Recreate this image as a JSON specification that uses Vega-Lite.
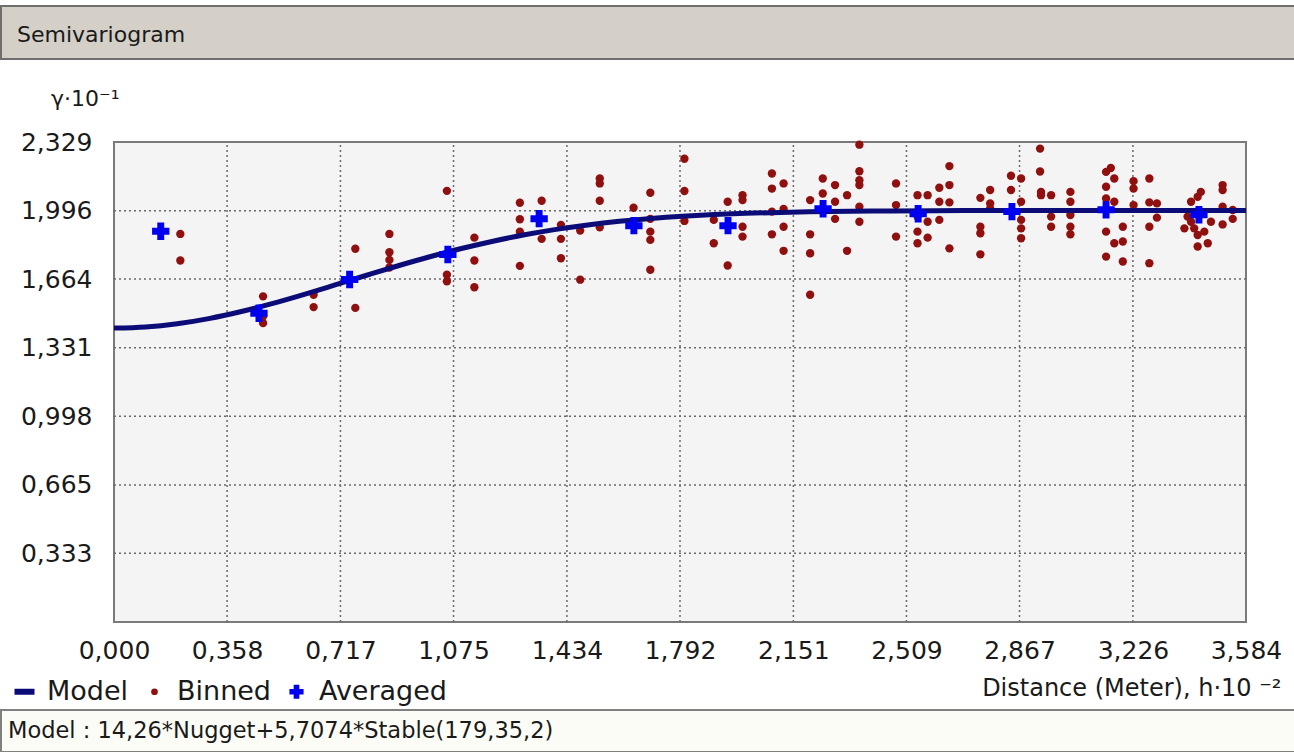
{
  "$schema": "https://vega.github.io/schema/vega-lite/v6.json",
  "background": "#ffffff",
  "padding": {"top": 5, "left": 0, "right": 0, "bottom": 0},
  "datasets": {
    "binned": [
      {"h":0.210,"g":1.883},{"h":0.210,"g":1.754},{"h":0.472,"g":1.580},{"h":0.472,"g":1.483},{"h":0.472,"g":1.450},
      {"h":0.632,"g":1.588},{"h":0.632,"g":1.528},{"h":0.764,"g":1.811},{"h":0.764,"g":1.524},{"h":0.872,"g":1.883},
      {"h":0.872,"g":1.794},{"h":0.872,"g":1.757},{"h":0.872,"g":1.720},{"h":1.054,"g":2.092},{"h":1.054,"g":1.685},
      {"h":1.054,"g":1.653},{"h":1.141,"g":1.865},{"h":1.141,"g":1.754},{"h":1.141,"g":1.624},{"h":1.285,"g":2.034},
      {"h":1.285,"g":1.954},{"h":1.285,"g":1.894},{"h":1.285,"g":1.728},{"h":1.354,"g":2.044},{"h":1.354,"g":1.859},
      {"h":1.415,"g":1.927},{"h":1.415,"g":1.859},{"h":1.415,"g":1.765},{"h":1.476,"g":1.899},{"h":1.476,"g":1.661},
      {"h":1.538,"g":2.152},{"h":1.538,"g":2.128},{"h":1.538,"g":2.044},{"h":1.538,"g":1.915},{"h":1.645,"g":2.010},
      {"h":1.698,"g":2.083},{"h":1.698,"g":1.956},{"h":1.698,"g":1.894},{"h":1.698,"g":1.854},{"h":1.698,"g":1.709},
      {"h":1.806,"g":2.248},{"h":1.806,"g":2.091},{"h":1.806,"g":1.946},{"h":1.899,"g":1.951},{"h":1.899,"g":1.838},
      {"h":1.943,"g":2.039},{"h":1.943,"g":1.730},{"h":1.990,"g":2.071},{"h":1.990,"g":2.047},{"h":1.990,"g":1.918},
      {"h":1.990,"g":1.870},{"h":2.083,"g":2.176},{"h":2.083,"g":2.103},{"h":2.083,"g":1.991},{"h":2.083,"g":1.881},
      {"h":2.120,"g":2.128},{"h":2.120,"g":2.004},{"h":2.120,"g":1.918},{"h":2.120,"g":1.801},{"h":2.204,"g":2.047},
      {"h":2.204,"g":1.881},{"h":2.204,"g":1.789},{"h":2.204,"g":1.588},{"h":2.244,"g":2.152},{"h":2.244,"g":2.079},
      {"h":2.283,"g":2.120},{"h":2.283,"g":2.039},{"h":2.283,"g":1.956},{"h":2.321,"g":2.071},{"h":2.321,"g":1.801},
      {"h":2.360,"g":2.316},{"h":2.360,"g":2.187},{"h":2.360,"g":2.144},{"h":2.360,"g":2.120},{"h":2.360,"g":2.015},
      {"h":2.360,"g":1.942},{"h":2.476,"g":2.128},{"h":2.476,"g":2.023},{"h":2.476,"g":1.870},{"h":2.544,"g":2.071},
      {"h":2.544,"g":1.967},{"h":2.544,"g":1.894},{"h":2.544,"g":1.838},{"h":2.576,"g":2.071},{"h":2.576,"g":1.942},
      {"h":2.576,"g":1.865},{"h":2.613,"g":2.107},{"h":2.613,"g":2.039},{"h":2.613,"g":1.951},{"h":2.645,"g":2.212},
      {"h":2.645,"g":2.120},{"h":2.645,"g":2.036},{"h":2.645,"g":1.813},{"h":2.743,"g":2.058},{"h":2.743,"g":1.918},
      {"h":2.743,"g":1.886},{"h":2.743,"g":1.784},{"h":2.774,"g":2.096},{"h":2.774,"g":2.031},{"h":2.774,"g":2.007},
      {"h":2.840,"g":2.165},{"h":2.840,"g":2.096},{"h":2.872,"g":2.152},{"h":2.872,"g":2.039},{"h":2.872,"g":1.951},
      {"h":2.872,"g":1.910},{"h":2.872,"g":1.862},{"h":2.932,"g":2.297},{"h":2.932,"g":2.186},{"h":2.935,"g":2.087},
      {"h":2.935,"g":2.071},{"h":2.967,"g":2.071},{"h":2.967,"g":1.967},{"h":2.967,"g":1.918},{"h":3.028,"g":2.087},
      {"h":3.028,"g":2.039},{"h":3.028,"g":1.975},{"h":3.028,"g":1.918},{"h":3.028,"g":1.881},{"h":3.141,"g":2.184},
      {"h":3.156,"g":2.203},{"h":3.167,"g":2.152},{"h":3.141,"g":2.112},{"h":3.141,"g":2.055},{"h":3.167,"g":2.039},
      {"h":3.141,"g":1.894},{"h":3.141,"g":1.773},{"h":3.167,"g":1.838},{"h":3.194,"g":1.846},{"h":3.194,"g":1.918},
      {"h":3.194,"g":1.749},{"h":3.228,"g":2.139},{"h":3.228,"g":2.103},{"h":3.228,"g":2.023},{"h":3.278,"g":2.152},
      {"h":3.278,"g":2.036},{"h":3.302,"g":2.031},{"h":3.302,"g":1.962},{"h":3.278,"g":1.918},{"h":3.278,"g":1.741},
      {"h":3.399,"g":1.967},{"h":3.410,"g":1.942},{"h":3.420,"g":1.910},{"h":3.431,"g":1.878},{"h":3.452,"g":1.894},
      {"h":3.463,"g":1.838},{"h":3.431,"g":1.822},{"h":3.441,"g":2.087},{"h":3.431,"g":2.063},{"h":3.410,"g":2.039},
      {"h":3.473,"g":1.942},{"h":3.389,"g":1.910},{"h":3.510,"g":2.120},{"h":3.510,"g":2.096},{"h":3.510,"g":2.015},
      {"h":3.510,"g":1.929},{"h":3.542,"g":1.999},{"h":3.542,"g":1.956}
    ],
    "averaged": [
      {"h":0.148,"g":1.896},{"h":0.459,"g":1.498},{"h":0.746,"g":1.662},{"h":1.057,"g":1.783},
      {"h":1.346,"g":1.957},{"h":1.646,"g":1.923},{"h":1.944,"g":1.923},{"h":2.245,"g":2.005},
      {"h":2.546,"g":1.981},{"h":2.843,"g":1.991},{"h":3.141,"g":2.000},{"h":3.435,"g":1.976}
    ],
    "model": [
      {"h":0.0,"g":1.4260},{"h":0.1,"g":1.4313},{"h":0.2,"g":1.4469},{"h":0.3,"g":1.4720},{"h":0.4,"g":1.5051},
      {"h":0.5,"g":1.5447},{"h":0.6,"g":1.5888},{"h":0.7,"g":1.6354},{"h":0.8,"g":1.6825},{"h":0.9,"g":1.7286},
      {"h":1.0,"g":1.7721},{"h":1.1,"g":1.8121},{"h":1.2,"g":1.8477},{"h":1.3,"g":1.8787},{"h":1.4,"g":1.9050},
      {"h":1.5,"g":1.9267},{"h":1.6,"g":1.9443},{"h":1.7,"g":1.9582},{"h":1.8,"g":1.9690},{"h":1.9,"g":1.9771},
      {"h":2.0,"g":1.9830},{"h":2.2,"g":1.9905},{"h":2.4,"g":1.9941},{"h":2.6,"g":1.9957},{"h":2.8,"g":1.9963},
      {"h":3.0,"g":1.9966},{"h":3.2,"g":1.9967},{"h":3.4,"g":1.9967},{"h":3.584,"g":1.9967}
    ],
    "frame": [{"h0": 0, "h1": 3.584, "g0": 0, "g1": 2.329}],
    "gridx": [{"h":0.358},{"h":0.717},{"h":1.075},{"h":1.434},{"h":1.792},{"h":2.151},{"h":2.509},{"h":2.867},{"h":3.226}],
    "gridy": [{"g":0.333},{"g":0.665},{"g":0.998},{"g":1.331},{"g":1.664},{"g":1.996}],
    "bar": [{"label": "Semivariogram"}],
    "footer": [{"label": "Model : 14,26*Nugget+5,7074*Stable(179,35,2)"}]
  },
  "concat": [
    {
      "width": 1294,
      "height": 53,
      "data": {"name": "bar"},
      "mark": {"type": "text", "align": "left", "baseline": "middle", "x": 16, "y": 29, "fontSize": 22, "font": "DejaVu Sans", "color": "#1a1a1a"},
      "encoding": {"text": {"field": "label"}},
      "view": {"fill": "#d4d0c8", "stroke": "#6e6e6e", "strokeWidth": 2}
    },
    {
      "concat": [
        {
          "width": 1294,
          "height": 480,
          "view": {"fill": "#ffffff", "stroke": null},
          "layer": [
            {
              "data": {"name": "frame"},
              "mark": {"type": "rect", "fill": "#f4f4f4", "stroke": "#7a7a7a", "strokeWidth": 2},
              "encoding": {
                "x": {
                  "field": "h0", "type": "quantitative",
                  "scale": {"domain": [-0.357767, 3.739166], "nice": false, "zero": false},
                  "axis": {
                    "values": [0, 0.358, 0.717, 1.075, 1.434, 1.792, 2.151, 2.509, 2.867, 3.226, 3.584],
                    "labelExpr": "replace(format(datum.value, '.3f'), '.', ',')",
                    "grid": false, "ticks": false, "domain": false,
                    "labelFont": "DejaVu Sans", "labelFontSize": 25, "labelColor": "#1a1a1a",
                    "labelPadding": 16, "labelFlush": false, "labelOverlap": false,
                    "title": "Distance (Meter), h·10 ⁻²",
                    "titleFont": "DejaVu Sans", "titleFontSize": 24, "titleFontWeight": "normal", "titleColor": "#1a1a1a",
                    "titleAnchor": "end", "titleAlign": "right", "titleX": 1280, "titleY": 66, "titleBaseline": "middle"
                  }
                },
                "x2": {"field": "h1"},
                "y": {
                  "field": "g0", "type": "quantitative",
                  "scale": {"domain": [0, 2.329], "nice": false, "zero": false},
                  "axis": {
                    "values": [0.333, 0.665, 0.998, 1.331, 1.664, 1.996, 2.329],
                    "labelExpr": "replace(format(datum.value, '.3f'), '.', ',')",
                    "grid": false, "ticks": false, "domain": false, "offset": -113,
                    "labelFont": "DejaVu Sans", "labelFontSize": 25, "labelColor": "#1a1a1a",
                    "labelPadding": 22,
                    "title": "γ·10⁻¹",
                    "titleFont": "DejaVu Sans", "titleFontSize": 22, "titleFontWeight": "normal", "titleColor": "#1a1a1a",
                    "titleAngle": 0, "titleAlign": "right", "titleBaseline": "alphabetic", "titleX": 5, "titleY": -37
                  }
                },
                "y2": {"field": "g1"}
              }
            },
            {
              "data": {"name": "gridx"},
              "mark": {"type": "rule", "stroke": "#6a6a6a", "strokeWidth": 1.5, "strokeDash": [2, 3]},
              "encoding": {
                "x": {"field": "h", "type": "quantitative"},
                "y": {"datum": 0, "type": "quantitative"},
                "y2": {"datum": 2.329}
              }
            },
            {
              "data": {"name": "gridy"},
              "mark": {"type": "rule", "stroke": "#6a6a6a", "strokeWidth": 1.5, "strokeDash": [2, 3]},
              "encoding": {
                "y": {"field": "g", "type": "quantitative"},
                "x": {"datum": 0, "type": "quantitative"},
                "x2": {"datum": 3.584}
              }
            },
            {
              "data": {"name": "binned"},
              "transform": [{"calculate": "'Binned'", "as": "series"}],
              "mark": {"type": "circle", "size": 70, "opacity": 1},
              "encoding": {
                "x": {"field": "h", "type": "quantitative"},
                "y": {"field": "g", "type": "quantitative"},
                "color": {
                  "field": "series", "type": "nominal",
                  "scale": {"domain": ["Model", "Binned", "Averaged"], "range": ["#0c0c78", "#901010", "#0000f0"]},
                  "legend": {
                    "orient": "none", "legendX": 10, "legendY": 536, "direction": "horizontal", "title": null,
                    "labelFont": "DejaVu Sans", "labelFontSize": 27, "labelColor": "#1a1a1a",
                    "labelOffset": 9, "columnPadding": 12,
                    "symbolType": {"expr": "datum.value === 'Model' ? 'stroke' : datum.value === 'Binned' ? 'circle' : 'cross'"},
                    "symbolSize": {"expr": "datum.value === 'Model' ? 400 : datum.value === 'Binned' ? 45 : 200"},
                    "symbolStrokeWidth": {"expr": "datum.value === 'Model' ? 6 : 0"}
                  }
                }
              }
            },
            {
              "data": {"name": "model"},
              "transform": [{"calculate": "'Model'", "as": "series"}],
              "mark": {"type": "line", "strokeWidth": 5, "interpolate": "monotone"},
              "encoding": {
                "x": {"field": "h", "type": "quantitative"},
                "y": {"field": "g", "type": "quantitative"},
                "color": {"field": "series", "type": "nominal"}
              }
            },
            {
              "data": {"name": "averaged"},
              "transform": [{"calculate": "'Averaged'", "as": "series"}],
              "mark": {"type": "point", "shape": "cross", "filled": true, "size": 300, "opacity": 1},
              "encoding": {
                "x": {"field": "h", "type": "quantitative"},
                "y": {"field": "g", "type": "quantitative"},
                "color": {"field": "series", "type": "nominal"}
              }
            }
          ]
        },
        {
          "width": 1294,
          "height": 42,
          "data": {"name": "footer"},
          "mark": {"type": "text", "align": "left", "baseline": "middle", "x": 7, "y": 21, "fontSize": 22.5, "font": "DejaVu Sans", "color": "#1a1a1a"},
          "encoding": {"text": {"field": "label"}},
          "view": {"fill": "#fcfcf6", "stroke": "#808080", "strokeWidth": 2}
        }
      ],
      "columns": 1,
      "spacing": 4,
      "resolve": {"scale": {"color": "independent"}, "legend": {"color": "independent"}}
    }
  ],
  "columns": 1,
  "spacing": 27,
  "resolve": {"scale": {"color": "independent"}, "legend": {"color": "independent"}}
}
